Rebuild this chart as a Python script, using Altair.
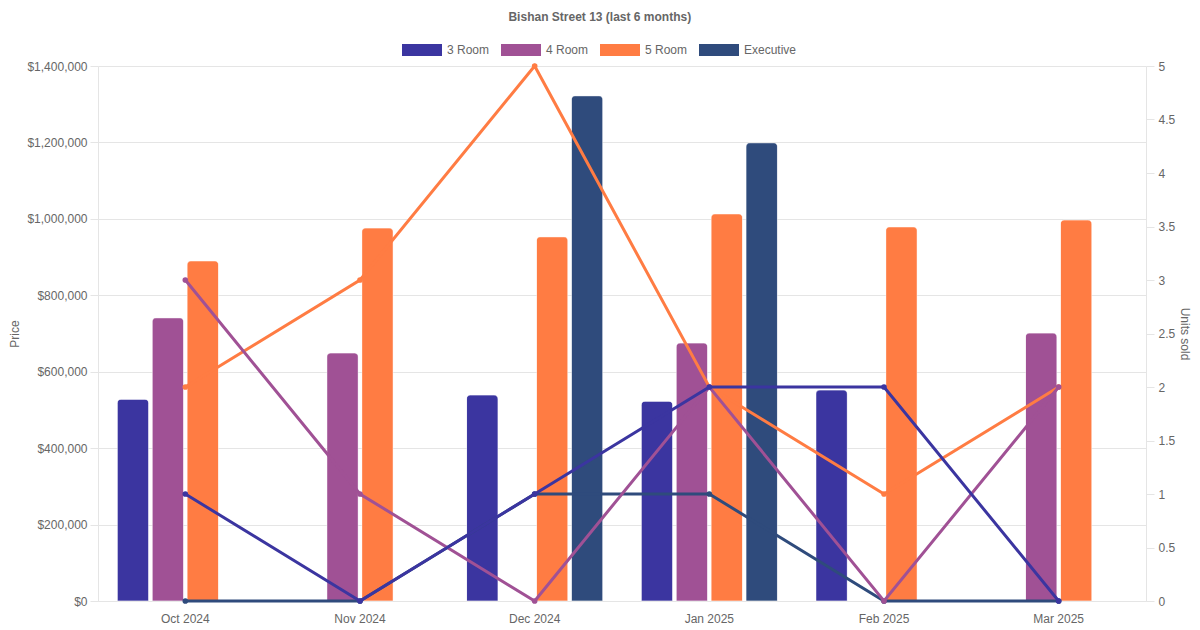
import altair as alt
import pandas as pd

months = ["Oct 2024", "Nov 2024", "Dec 2024", "Jan 2025", "Feb 2025", "Mar 2025"]
series = ["3 Room", "4 Room", "5 Room", "Executive"]
colors = ["#3b35a0", "#a05195", "#ff7c43", "#2f4b7c"]

price_3room = [528000, None, 539000, 523000, 552000, None]
price_4room = [741000, 649000, None, 675000, None, 701000]
price_5room = [890000, 976000, 953000, 1013000, 979000, 997000]
price_exec = [None, None, 1322000, 1199000, None, None]

units_3room = [1, 0, 1, 2, 2, 0]
units_4room = [3, 1, 0, 2, 0, 2]
units_5room = [2, 3, 5, 2, 1, 2]
units_exec = [0, 0, 1, 1, 0, 0]

prices = [price_3room, price_4room, price_5room, price_exec]
units = [units_3room, units_4room, units_5room, units_exec]

rows = []
for s, p_list, u_list in zip(series, prices, units):
    for m, p, u in zip(months, p_list, u_list):
        rows.append({"month": m, "series": s, "price": p, "units": u})
df = pd.DataFrame(rows)

FONT = "Liberation Sans, Arial, Helvetica, sans-serif"
GRID = "#e5e5e5"
TXT = "#666666"

legend = alt.Legend(
    title=None, orient="none", direction="horizontal",
    legendX=304, legendY=-36,
    symbolType="M-1,-0.3H1V0.3H-1Z", symbolSize=1600,
    symbolStrokeWidth=0, labelFontSize=12, labelColor=TXT, labelFont=FONT,
    labelOffset=5, columnPadding=11, padding=0,
)
color = alt.Color("series:N", scale=alt.Scale(domain=series, range=colors), legend=legend)

x = alt.X("month:N", sort=months, title=None,
          scale=alt.Scale(paddingInner=0.2, paddingOuter=0.1),
          axis=alt.Axis(labelAngle=0, ticks=False, grid=False, labelPadding=12,
                        domainColor=GRID, labelColor=TXT, labelFontSize=12, labelFont=FONT))

bars = alt.Chart(df).mark_bar(
    cornerRadiusTopLeft=4, cornerRadiusTopRight=4,
    stroke="white", strokeOpacity=0.35, strokeWidth=1,
).encode(
    x=x,
    xOffset=alt.XOffset("series:N", scale=alt.Scale(domain=series, paddingInner=0.1, paddingOuter=0.05)),
    y=alt.Y("price:Q", title="Price",
            scale=alt.Scale(domain=[0, 1400000], nice=False),
            axis=alt.Axis(values=[0, 200000, 400000, 600000, 800000, 1000000, 1200000, 1400000],
                          format="$,.0f", orient="left", gridColor=GRID, domainColor=GRID,
                          tickColor=GRID, tickSize=8, labelPadding=3, labelColor=TXT,
                          labelFontSize=12, labelFont=FONT, titleColor=TXT, titleFontSize=12,
                          titleFont=FONT, titleFontWeight="normal", titlePadding=5)),
    color=color,
)

right_axis = alt.Axis(values=[0, 0.5, 1, 1.5, 2, 2.5, 3, 3.5, 4, 4.5, 5], format=".1~f",
                      orient="right", grid=False, domainColor=GRID, tickColor=GRID, tickSize=8,
                      labelPadding=4, labelColor=TXT, labelFontSize=12, labelFont=FONT,
                      titleColor=TXT, titleFontSize=12, titleFont=FONT, titleAngle=90,
                      titleBaseline="bottom",
                      titleFontWeight="normal", titlePadding=3)

line_layers = []
for s in ["Executive", "5 Room", "4 Room", "3 Room"]:
    line_layers.append(
        alt.Chart(df).transform_filter(alt.datum.series == s).mark_line(
            strokeWidth=3,
            point=alt.OverlayMarkDef(size=32, filled=True, opacity=1),
        ).encode(
            x=x,
            y=alt.Y("units:Q", title="Units sold",
                    scale=alt.Scale(domain=[0, 5], nice=False), axis=right_axis),
            color=color,
        )
    )

lines = alt.layer(*line_layers)

chart = alt.layer(bars, lines).resolve_scale(y="independent").properties(
    width=1048, height=535,
    title=alt.TitleParams("Bishan Street 13 (last 6 months)", fontSize=12, fontWeight="bold",
                          color=TXT, font=FONT, anchor="middle", frame="bounds", offset=6),
    autosize=alt.AutoSizeParams(type="none"),
    padding={"left": 90, "top": 58, "right": 46, "bottom": 26},
).configure_view(stroke=None)

chart.save("out.html", embed_options={"renderer": "svg", "actions": False})
